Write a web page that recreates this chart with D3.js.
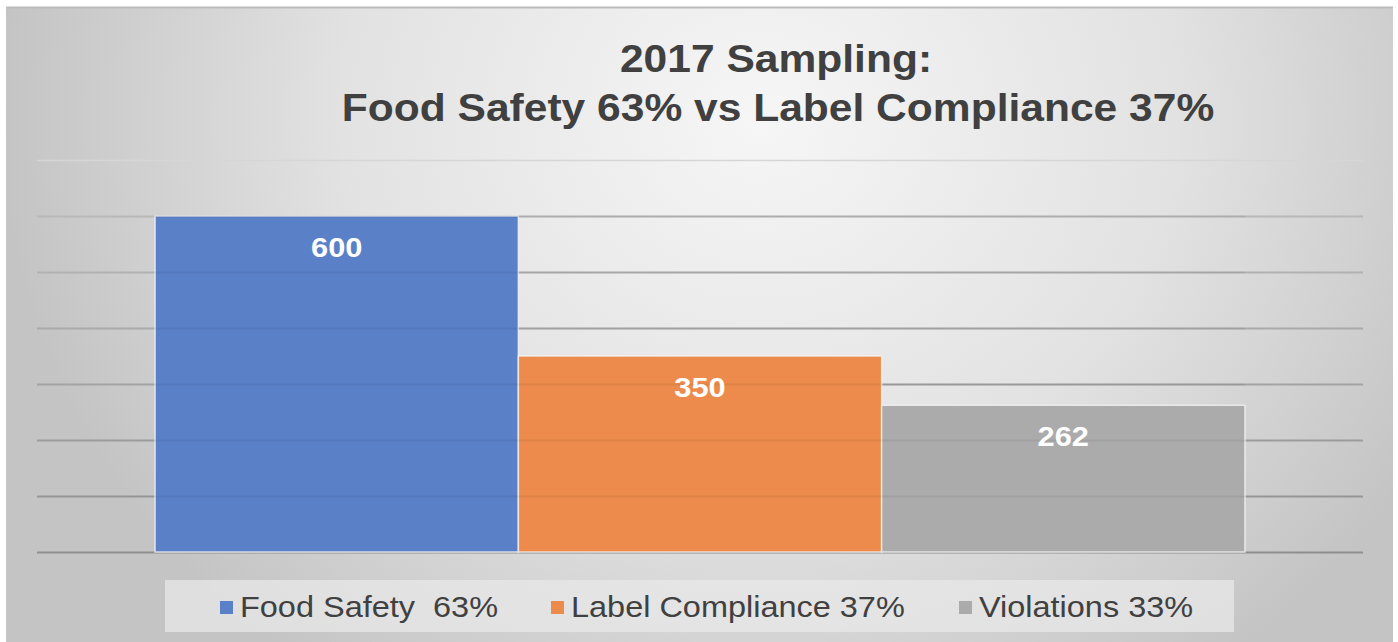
<!DOCTYPE html>
<html lang="en">
<head>
    <meta charset="UTF-8">
    <title>2017 Sampling</title>
    <script src="https://d3js.org/d3.v7.min.js"></script>
    <style>
        body { margin: 0; background: #fff; }
        svg { display: block; font-family: "Liberation Sans", Arial, sans-serif; }
        text { white-space: pre; }
    </style>
</head>
<body>
<div id="chart"></div>
<script>
    const titleLines = ["2017 Sampling:", "Food Safety 63% vs Label Compliance 37%"];
    const seriesNames = ["Food Safety  63%", "Label Compliance 37%", "Violations 33%"];
    const seriesValues = [600, 350, 262];
    const seriesColors = ["#5a80c8", "#ec8b4b", "#ababab"];
    const gridTicks = [100, 200, 300, 400, 500, 600, 700];

    const W = 1398, H = 642;
    const plot = { left: 37, right: 1363, top: 160, bottom: 552 };
    const sx = 1.12; // text in the original is drawn a bit wide

    const svg = d3.select("#chart").append("svg")
        .attr("width", W).attr("height", H);

    const defs = svg.append("defs");
    const bg = defs.append("radialGradient").attr("id", "bg")
        .attr("gradientUnits", "userSpaceOnUse")
        .attr("cx", 760).attr("cy", 120).attr("r", 760)
        .attr("gradientTransform", "translate(760,120) scale(1,0.9) translate(-760,-120)");
    bg.append("stop").attr("offset", "0%").attr("stop-color", "#f6f6f6");
    bg.append("stop").attr("offset", "55%").attr("stop-color", "#e2e2e2");
    bg.append("stop").attr("offset", "100%").attr("stop-color", "#c4c4c4");

    // chart area
    svg.append("rect").attr("x", 6).attr("y", 7).attr("width", 1387).attr("height", H - 7)
        .attr("fill", "url(#bg)");
    svg.append("line").attr("x1", 6).attr("x2", 1393).attr("y1", 7.5).attr("y2", 7.5)
        .attr("stroke", "#bdbdbd").attr("stroke-width", 2);

    const x = d3.scaleBand().domain(seriesNames)
        .range([plot.left, plot.right]).paddingInner(0).paddingOuter(0.325);
    const y = d3.scaleLinear().domain([0, 700]).range([plot.bottom, plot.top]);
    const color = d3.scaleOrdinal().domain(seriesNames).range(seriesColors);

    // gridlines
    const gridColor = d3.scaleLinear().domain([700, 600, 0]).range(["#d6d6d6", "#b8b8b8", "#8e8e8e"]);
    svg.append("g").selectAll("line")
        .data([0].concat(gridTicks))
        .join("line")
        .attr("x1", plot.left).attr("x2", plot.right)
        .attr("y1", d => y(d) + 0.5).attr("y2", d => y(d) + 0.5)
        .attr("stroke", d => gridColor(d))
        .attr("stroke-width", d => d === 700 ? 1.5 : 2);

    // bars
    svg.append("g").selectAll("rect")
        .data(seriesValues)
        .join("rect")
        .attr("x", (d, i) => x(seriesNames[i]))
        .attr("y", d => y(d))
        .attr("width", x.bandwidth())
        .attr("height", d => y(0) - y(d))
        .attr("fill", (d, i) => seriesColors[i])
        .attr("stroke", "#f4f4f4")
        .attr("stroke-opacity", 0.8)
        .attr("stroke-width", 1.5);

    // gridlines showing faintly through the bars
    svg.append("g").selectAll("line")
        .data(gridTicks.slice(0, 6))
        .join("line")
        .attr("x1", x(seriesNames[0])).attr("x2", x(seriesNames[2]) + x.bandwidth())
        .attr("y1", d => y(d) + 0.5).attr("y2", d => y(d) + 0.5)
        .attr("stroke", "#000").attr("stroke-opacity", 0.06).attr("stroke-width", 2);

    // value labels
    svg.append("g").selectAll("text")
        .data(seriesValues)
        .join("text")
        .attr("transform", (d, i) => `translate(${x(seriesNames[i]) + x.bandwidth() / 2},${y(d) + 41}) scale(${sx},1)`)
        .attr("text-anchor", "middle")
        .attr("fill", "#fff")
        .attr("font-weight", "bold")
        .attr("font-size", 27.5)
        .text(d => d);

    // title
    svg.append("g").selectAll("text")
        .data(titleLines)
        .join("text")
        .attr("transform", (d, i) => `translate(${i === 0 ? 776 : 778},${72 + i * 49}) scale(${sx},1)`)
        .attr("text-anchor", "middle")
        .attr("fill", "#404040")
        .attr("font-weight", "bold")
        .attr("font-size", 38)
        .text(d => d);

    // legend
    svg.append("rect").attr("x", 165).attr("y", 580).attr("width", 1069).attr("height", 52)
        .attr("fill", "#e8e8e8").attr("fill-opacity", 0.75);

    const legendX = [220, 551, 959];
    const legend = svg.append("g").selectAll("g")
        .data(seriesNames)
        .join("g")
        .attr("transform", (d, i) => `translate(${legendX[i]},0)`);
    legend.append("rect")
        .attr("x", 0).attr("y", 601).attr("width", 13).attr("height", 13)
        .attr("fill", d => color(d));
    legend.append("text")
        .attr("transform", `translate(20,617) scale(${sx},1)`)
        .attr("fill", "#404040")
        .attr("font-size", 29)
        .text(d => d);
</script>
</body>
</html>
